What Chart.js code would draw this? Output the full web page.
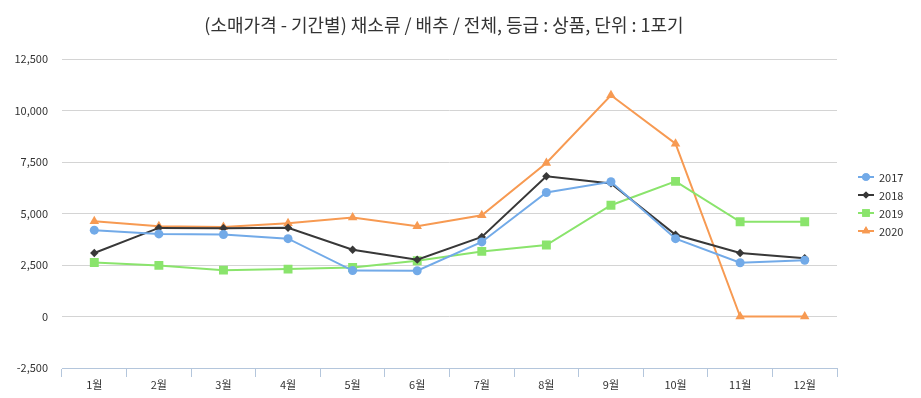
<!DOCTYPE html>
<html>
<head>
<meta charset="utf-8">
<script src="https://cdn.jsdelivr.net/npm/chart.js@4/dist/chart.umd.min.js"></script>
<style>
html,body{margin:0;padding:0;background:#fff;}
#wrap{width:921px;height:398px;}
</style>
</head>
<body>
<div id="wrap"><canvas id="c" width="921" height="398"></canvas></div>
<script>
const titleText = '(소매가격 - 기간별) 채소류 / 배추 / 전체, 등급 : 상품, 단위 : 1포기';
const months = ['1월','2월','3월','4월','5월','6월','7월','8월','9월','10월','11월','12월'];
const seriesNames = ['2017','2018','2019','2020'];
const v2017 = [4190, 4010, 3980, 3780, 2230, 2220, 3620, 6020, 6540, 3780, 2610, 2730];
const v2018 = [3080, 4300, 4290, 4310, 3240, 2760, 3860, 6810, 6460, 3970, 3080, 2830];
const v2019 = [2620, 2480, 2250, 2300, 2380, 2710, 3160, 3470, 5400, 6560, 4600, 4600];
const v2020 = [4620, 4380, 4350, 4530, 4800, 4380, 4910, 7450, 10740, 8390, 0, 0];
const yTicks = [-2500, 0, 2500, 5000, 7500, 10000, 12500];

const colors = ['#72aae8', '#383838', '#8ae46c', '#f79a52'];
const styles = ['circle', 'rectRot', 'rect', 'triangle'];
const radii = [4.5, 4.2, 6.3, 5.5];
const values = [v2017, v2018, v2019, v2020];
const FONT = '"Noto Sans CJK KR", "Noto Sans", sans-serif';

const datasets = seriesNames.map((n, i) => ({
  label: n,
  data: values[i],
  borderColor: colors[i],
  backgroundColor: colors[i],
  borderWidth: 2,
  pointStyle: styles[i],
  pointRadius: radii[i],
  pointHoverRadius: radii[i],
  pointBorderWidth: 0,
  tension: 0
}));

const decorPlugin = {
  id: 'decor',
  afterDraw(chart) {
    const ctx = chart.ctx;
    ctx.save();
    // title
    ctx.fillStyle = '#333';
    ctx.font = '18px ' + FONT;
    ctx.textAlign = 'center';
    ctx.textBaseline = 'middle';
    ctx.fillText(titleText, 444, 25);
    // legend
    chart.data.datasets.forEach((ds, i) => {
      const y = 177 + i * 18;
      ctx.strokeStyle = ds.borderColor;
      ctx.lineWidth = 2;
      ctx.beginPath();
      ctx.moveTo(858, y);
      ctx.lineTo(874, y);
      ctx.stroke();
      ctx.fillStyle = ds.borderColor;
      Chart.helpers.drawPoint(ctx, {pointStyle: ds.pointStyle, radius: ds.pointRadius * 0.85, borderWidth: 0, rotation: 0}, 866, y);
      ctx.fill();
      ctx.fillStyle = '#333';
      ctx.font = '11px ' + FONT;
      ctx.textBaseline = 'middle';
      ctx.textAlign = 'left';
      ctx.fillText(ds.label, 879, y + 0.5);
    });
    ctx.restore();
  }
};

new Chart(document.getElementById('c'), {
  type: 'line',
  data: { labels: months, datasets },
  plugins: [decorPlugin],
  options: {
    responsive: false,
    animation: false,
    layout: { padding: { left: 0, right: 84, top: 59, bottom: 0 } },
    plugins: {
      legend: { display: false },
      tooltip: { enabled: false },
      title: { display: false }
    },
    scales: {
      x: {
        type: 'category',
        offset: true,
        grid: {
          offset: true,
          drawOnChartArea: false,
          drawTicks: true,
          tickLength: 9,
          tickColor: '#b4c6dc',
          tickWidth: 1
        },
        border: { display: true, color: '#b4c6dc', width: 1 },
        ticks: {
          color: '#333',
          font: { family: FONT, size: 11 },
          padding: 1,
          maxRotation: 0,
          autoSkip: false
        },
        afterFit(scale) { scale.height = 30; }
      },
      y: {
        min: -2500,
        max: 12500,
        afterBuildTicks(scale) { scale.ticks = yTicks.map(v => ({ value: v })); },
        grid: { color: '#d4d4d4', drawTicks: false, lineWidth: 1 },
        border: { display: false },
        ticks: {
          color: '#333',
          font: { family: FONT, size: 11 },
          padding: 14,
          callback: v => v.toLocaleString('en-US')
        },
        afterFit(scale) { scale.width = 62; }
      }
    }
  }
});
</script>
</body>
</html>
